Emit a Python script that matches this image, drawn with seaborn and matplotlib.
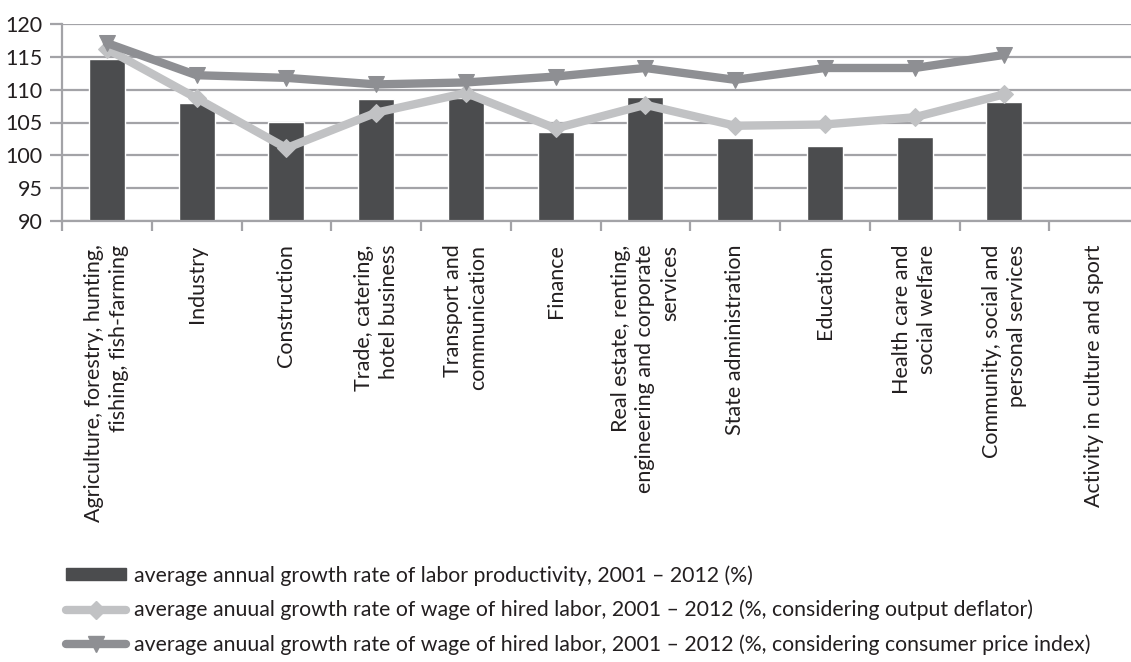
import numpy as np
import pandas as pd
import matplotlib
matplotlib.use("Agg")
import matplotlib.pyplot as plt
import seaborn as sns
from matplotlib.lines import Line2D
from matplotlib.patches import Patch

sectors = [
    "Agriculture, forestry, hunting,\nfishing, fish-farming",
    "Industry",
    "Construction",
    "Trade, catering,\nhotel business",
    "Transport and\ncommunication",
    "Finance",
    "Real estate, renting,\nengineering and corporate\nservices",
    "State administration",
    "Education",
    "Health care and\nsocial welfare",
    "Community, social and\npersonal services",
    "Activity in culture and sport",
]
productivity = [114.7, 108.0, 105.1, 108.6, 108.8, 103.6, 108.9, 102.7, 101.4, 102.8, 108.1, np.nan]
wage_deflator = [116.2, 108.7, 101.1, 106.5, 109.5, 104.1, 107.7, 104.5, 104.7, 105.8, 109.3, np.nan]
wage_cpi = [117.1, 112.2, 111.8, 110.8, 111.1, 112.0, 113.3, 111.5, 113.3, 113.3, 115.3, np.nan]
y_ticks = [90, 95, 100, 105, 110, 115, 120]

legend_labels = [
    "average annual growth rate of labor productivity, 2001 \u2013 2012 (%)",
    "average anuual growth rate of wage of hired labor, 2001 \u2013 2012 (%, considering output deflator)",
    "average anuual growth rate of wage of hired labor, 2001 \u2013 2012 (%, considering consumer price index)",
]

BAR_C = "#4b4c4e"
LIGHT_C = "#c1c2c4"
DARK_C = "#8e8f93"
GRID_C = "#a3a3a7"
TEXT_C = "#231f20"

sns.set_theme(style="white")
plt.rcParams["font.family"] = ["Lato", "DejaVu Sans"]
plt.rcParams["text.color"] = TEXT_C

df = pd.DataFrame({
    "sector": sectors,
    "pos": np.arange(len(sectors)),
    "productivity": productivity,
    "wage_deflator": wage_deflator,
    "wage_cpi": wage_cpi,
})

fig = plt.figure(figsize=(11.31, 6.62), dpi=100)
W, H = 1131, 662
ax = fig.add_axes([62 / W, 1 - 221 / H, (1139 - 62) / W, (221 - 24) / H])

# Productivity bars (the last sector has no value)
sns.barplot(data=df.dropna(subset=["productivity"]), x="sector", y="productivity",
            order=sectors, color=BAR_C, saturation=1, width=0.4, ax=ax, zorder=2)

# Wage growth lines
line_df = df.dropna(subset=["wage_cpi"])
sns.lineplot(data=line_df, x="pos", y="wage_deflator", color=LIGHT_C, lw=6,
             marker="D", markersize=9, markeredgecolor=LIGHT_C, sort=False,
             legend=False, ax=ax, zorder=3)
sns.lineplot(data=line_df, x="pos", y="wage_cpi", color=DARK_C, lw=6,
             marker="v", markersize=11, markeredgecolor=DARK_C, sort=False,
             legend=False, ax=ax, zorder=4)

ax.set_xlim(-0.5, len(sectors) - 0.5)
ax.set_ylim(90, 120)
ax.set_yticks(y_ticks)
ax.set_xlabel("")
ax.set_ylabel("")
ax.set_axisbelow(True)
ax.yaxis.grid(True, color=GRID_C, lw=1.6)
ax.xaxis.grid(False)

for side in ["top", "right"]:
    ax.spines[side].set_visible(False)
for side in ["left", "bottom"]:
    ax.spines[side].set_color(GRID_C)
    ax.spines[side].set_linewidth(1.6)

ax.tick_params(axis="y", which="major", left=True, length=8.5, width=1.6,
               color=GRID_C, pad=5.5, labelsize=15.5, labelcolor=TEXT_C)
ax.set_xticks(np.arange(len(sectors)))
ax.set_xticklabels(sectors, rotation=90, ha="center", va="top",
                   multialignment="right", fontsize=15.5, color=TEXT_C,
                   linespacing=1.3)
ax.tick_params(axis="x", which="major", length=0, pad=17)
ax.set_xticks(np.arange(len(sectors) + 1) - 0.5, minor=True)
ax.tick_params(axis="x", which="minor", bottom=True, length=7.5, width=1.6, color=GRID_C)

handles = [
    Patch(facecolor=BAR_C, edgecolor=BAR_C),
    Line2D([], [], color=LIGHT_C, lw=6, marker="D", markersize=9, markeredgecolor=LIGHT_C),
    Line2D([], [], color=DARK_C, lw=6, marker="v", markersize=11, markeredgecolor=DARK_C),
]
fig.legend(handles, legend_labels, loc="upper left", bbox_to_anchor=(66 / W, 1 - 565 / H),
           frameon=False, fontsize=15.3, handlelength=2.8, handleheight=0.5,
           handletextpad=0.38, labelspacing=0.67, borderpad=0, borderaxespad=0)

fig.savefig("out.png", dpi=100)
